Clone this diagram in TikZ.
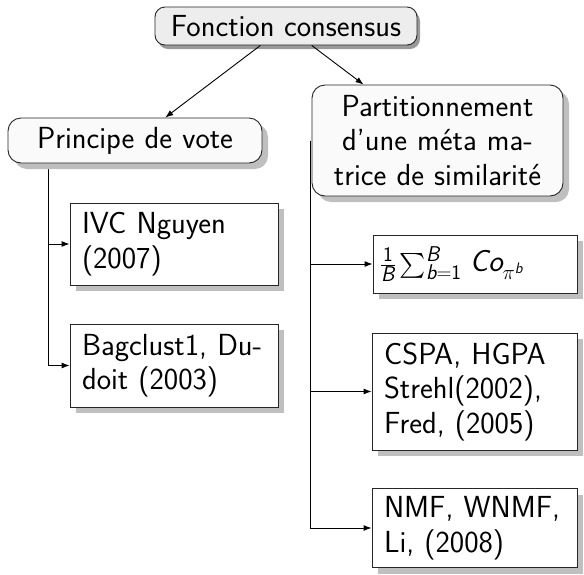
\documentclass[tikz,border=0pt]{standalone}
\usepackage{amsmath}
\usetikzlibrary{shadows,backgrounds,arrows.meta}

% sans-serif italic letters inside formulas
\newcommand\sv[1]{\text{\sffamily\itshape #1}}

\tikzset{
  base/.style={draw=black!85, line width=0.9pt,
    font=\sffamily\fontsize{30.5}{34.5}\selectfont, inner sep=0pt},
  rootbox/.style={base, rounded corners=10pt, fill=black!7,
    drop shadow={shadow xshift=3pt, shadow yshift=-4pt, fill=black!40, opacity=1}},
  catbox/.style={base, rounded corners=13pt, fill=black!2, align=center,
    drop shadow={shadow xshift=6pt, shadow yshift=-6pt, fill=black!25, opacity=1}},
  leafbox/.style={base, fill=white, align=left,
    drop shadow={shadow xshift=6pt, shadow yshift=-6pt, fill=black!25, opacity=1}},
  link/.style={line width=0.9pt, -{Latex[length=8pt,width=6pt]}},
  trunk/.style={line width=0.9pt},
}

\begin{document}
\begin{tikzpicture}[x=1pt, y=-1pt]
\useasboundingbox (0,0) rectangle (584,574);

% top level
\node[rootbox, minimum width=262pt, minimum height=38pt] (root) at (286,26)
  {Fonction consensus};

% second level
\node[catbox, minimum width=254pt, minimum height=45pt, text width=240pt] (vote) at (135,140.5)
  {Principe de vote};
\node[catbox, minimum width=251pt, minimum height=111pt, text width=240pt] (meta) at (437.5,140.5)
  {Partitionnement\\d'une méta ma-\\trice de similarité};

% leaves under the vote branch
\node[leafbox, minimum width=208pt, minimum height=82pt, text width=184pt] (ivc) at (174,244)
  {IVC Nguyen\\(2007)};
\node[leafbox, minimum width=208pt, minimum height=83pt, text width=184pt] (bag) at (174,365.5)
  {Bagclust1, Du-\\doit (2003)};

% leaves under the similarity-matrix branch
\node[leafbox, minimum width=204pt, minimum height=58pt, text width=190pt] (coas) at (475,264)
  {$\tfrac{\mathsf{1}}{\sv{B}}\sum_{\sv{b}=\mathsf{1}}^{\sv{B}}\, \sv{Co}_{\pi^{\sv{b}}}$};
\node[leafbox, minimum width=205pt, minimum height=117pt, text width=181pt] (cspa) at (474.5,391.5)
  {CSPA, HGPA\\Strehl(2002),\\Fred, (2005)};
\node[leafbox, minimum width=205pt, minimum height=79pt, text width=181pt] (nmf) at (474.5,528)
  {NMF, WNMF,\\Li, (2008)};

% connectors
\draw[link] (root) -- (vote);
\draw[link] (root) -- (meta);

\begin{pgfonlayer}{background}
  \draw[trunk] ([xshift=41pt]vote.south west) -- ([xshift=41pt]vote.south west |- bag.west);
  \draw[link] ([xshift=41pt]vote.south west) |- (ivc.west);
  \draw[link] ([xshift=41pt]vote.south west) |- (bag.west);
  \draw[link] ([xshift=-1pt]meta.west) |- (coas.west);
  \draw[link] ([xshift=-1pt]meta.west) |- (cspa.west);
  \draw[link] ([xshift=-1pt]meta.west) |- (nmf.west);
\end{pgfonlayer}
\end{tikzpicture}
\end{document}
